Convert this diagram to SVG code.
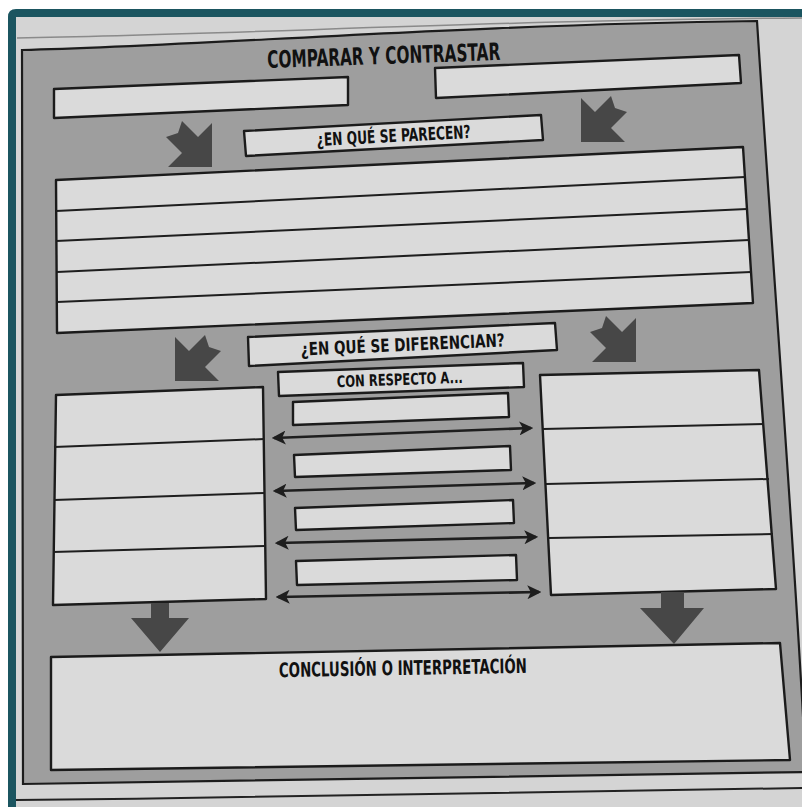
<svg xmlns="http://www.w3.org/2000/svg" width="802" height="807" viewBox="0 0 802 807">
<style>
.box{fill:#dadada;stroke:#1b1b1b;stroke-width:2.4;stroke-linejoin:round}
.rule{stroke:#1e1e1e;stroke-width:2;fill:none}
.lbl{font-family:"Liberation Sans Narrow","DejaVu Sans Condensed","Liberation Sans",Arial,sans-serif;font-weight:bold;fill:#111;text-anchor:middle}
.big{fill:#474747}
.dbl{stroke:#1e1e1e;stroke-width:2.6;fill:none;marker-start:url(#ah);marker-end:url(#ah)}
</style>
<defs>
<marker id="ah" viewBox="0 0 12 12" refX="10" refY="6" markerWidth="14" markerHeight="14" markerUnits="userSpaceOnUse" orient="auto-start-reverse">
<path d="M0,0 L12,6 L0,12 L3,6 Z" fill="#1e1e1e"/>
</marker>
<path id="diag" d="M0,0 L-44,0 L-30,-14 L-46,-30 L-34,-34 L-30,-46 L-14,-30 L0,-44 Z"/>
</defs>
<!-- background page & frame -->
<rect x="0" y="0" width="802" height="807" fill="#ffffff"/>
<path d="M8,807 L8,17 Q8,9 16,9 L802,9 L802,807 Z" fill="#1b5560"/>
<rect x="16" y="17" width="786" height="790" fill="#d4d4d4"/>
<path d="M17,38 C250,34 500,20 802,18" stroke="#8a8a8a" stroke-width="1.5" fill="none"/>
<path d="M16,800 C300,797 600,793 802,788" stroke="#222" stroke-width="2" fill="none"/>
<!-- panel -->
<path id="panel" d="M22,50 C200,46 450,25 757,21 C775,300 795,550 806,772 L23,784 Z" fill="#9e9e9e" stroke="#1c1c1c" stroke-width="2.2"/>
<g id="title"><text class="lbl" x="384" y="64" font-size="24" textLength="233" lengthAdjust="spacingAndGlyphs" transform="rotate(-2 384 64)">COMPARAR Y CONTRASTAR</text></g>
<g id="box-a"><polygon class="box" points="54,89 348,77 348,105 54,118"/></g>
<g id="box-b"><polygon class="box" points="435,68 739,55 741,83 436,98"/></g>
<g id="parecen"><polygon class="box" points="244,131 541,115 543,140 246,156"/>
<text class="lbl" x="394" y="142" font-size="18" textLength="154" lengthAdjust="spacingAndGlyphs" transform="rotate(-3 394 142)">¿EN QUÉ SE PARECEN?</text></g>
<g id="similarities"><polygon class="box" points="56,180 743,147 753,303 57,333"/>
<line class="rule" x1="56" y1="211" x2="745" y2="177"/>
<line class="rule" x1="56" y1="241" x2="747" y2="209"/>
<line class="rule" x1="57" y1="272" x2="749" y2="240"/>
<line class="rule" x1="57" y1="302" x2="751" y2="272"/></g>
<g id="diferencian"><polygon class="box" points="248,337 555,323 557,350 249,366"/>
<text class="lbl" x="403" y="351" font-size="18" textLength="204" lengthAdjust="spacingAndGlyphs" transform="rotate(-2.6 403 351)">¿EN QUÉ SE DIFERENCIAN?</text></g>
<g id="con-respecto"><polygon class="box" points="278,372 523,363 524,387 279,396"/>
<text class="lbl" x="400" y="385" font-size="16" textLength="126" lengthAdjust="spacingAndGlyphs" transform="rotate(-2 400 385)">CON RESPECTO A...</text></g>
<g id="aspect-1"><polygon class="box" points="293,402 508,393 509,417 293,425"/></g>
<g id="aspect-2"><polygon class="box" points="294,455 510,446 511,470 295,477"/></g>
<g id="aspect-3"><polygon class="box" points="295,508 513,500 514,523 296,530"/></g>
<g id="aspect-4"><polygon class="box" points="296,561 516,555 517,580 297,585"/></g>
<g id="left-col"><polygon class="box" points="56,395 263,387 266,599 53,605"/>
<line class="rule" x1="54" y1="447" x2="264" y2="439"/>
<line class="rule" x1="54" y1="500" x2="265" y2="493"/>
<line class="rule" x1="53" y1="552" x2="265" y2="546"/></g>
<g id="right-col"><polygon class="box" points="540,375 759,370 776,589 551,595"/>
<line class="rule" x1="543" y1="429" x2="764" y2="424"/>
<line class="rule" x1="546" y1="484" x2="769" y2="479"/>
<line class="rule" x1="549" y1="538" x2="773" y2="534"/></g>
<g id="conclusion"><polygon class="box" points="51,657 780,643 790,760 51,770"/>
<text class="lbl" x="403" y="675" font-size="20" textLength="248" lengthAdjust="spacingAndGlyphs" transform="rotate(-1 403 675)">CONCLUSIÓN O INTERPRETACIÓN</text></g>
<!-- connectors -->
<g id="connectors">
<use href="#diag" class="big" transform="translate(212,167)"/>
<use href="#diag" class="big" transform="translate(581,142) scale(-1,1)"/>
<use href="#diag" class="big" transform="translate(175,381) scale(-1,1)"/>
<use href="#diag" class="big" transform="translate(636,362)"/>
<path class="big" d="M151,603 L169,603 L169,618 L189,618 L160,652 L131,618 L151,618 Z"/>
<path class="big" d="M661,592 L684,592 L684,608 L704,608 L674,644 L640,608 L661,608 Z"/>
<line class="dbl" x1="274" y1="438" x2="531" y2="428"/>
<line class="dbl" x1="275" y1="491" x2="534" y2="483"/>
<line class="dbl" x1="277" y1="543" x2="536" y2="537"/>
<line class="dbl" x1="278" y1="597" x2="539" y2="592"/>
</g>
</svg>
